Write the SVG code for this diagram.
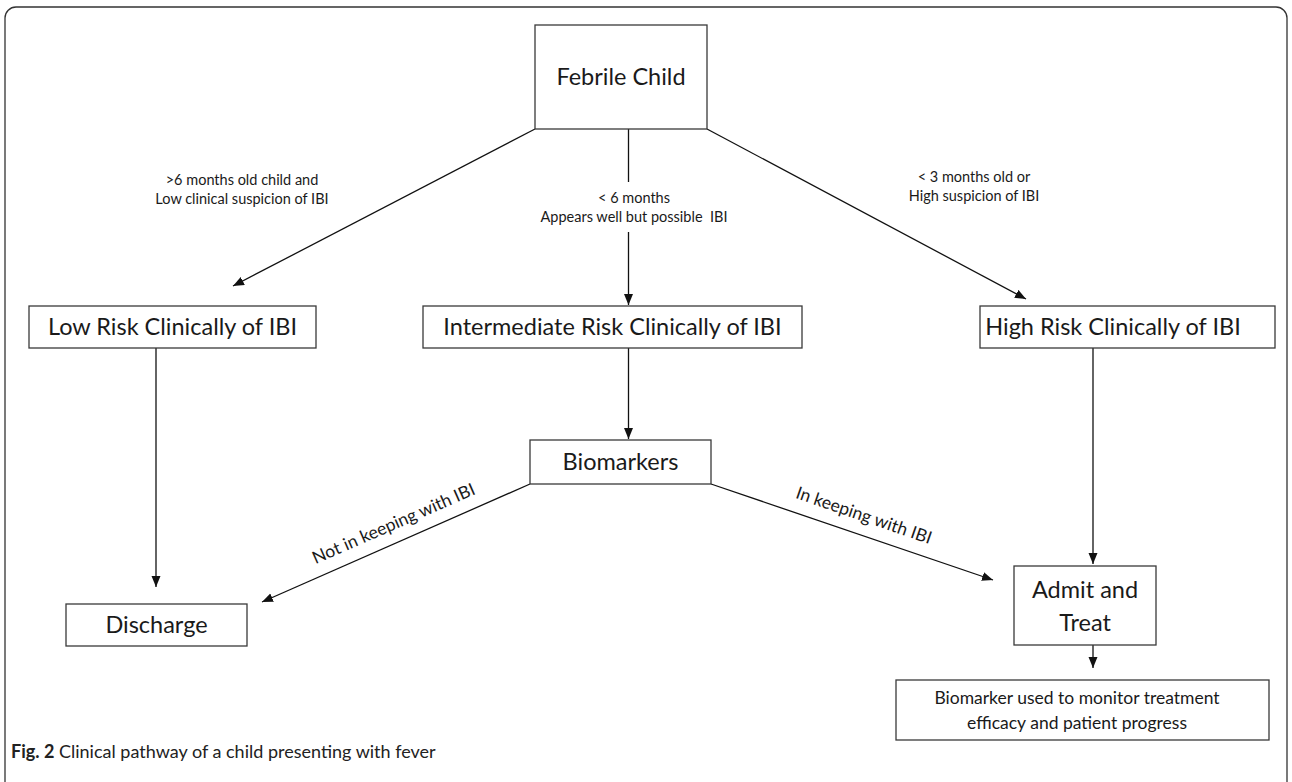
<svg xmlns="http://www.w3.org/2000/svg" width="1292" height="782" viewBox="0 0 1292 782">
<style>
.box{fill:#fff;stroke:#3a3a3a;stroke-width:1.3}
.t{font-family:Lato,"Open Sans",sans-serif;fill:#1a1a1a;text-anchor:middle}
.big{font-size:23.5px}
.sm{font-size:14.5px}
.md{font-size:17.5px}
.ln{stroke:#111;stroke-width:1.3;fill:none}
.cap{font-family:Lato,"Open Sans",sans-serif;font-size:18px;fill:#222}
</style>
<defs>
<marker id="ah" markerUnits="userSpaceOnUse" markerWidth="12" markerHeight="10" refX="11" refY="4.5" orient="auto">
<path d="M0,0 L11,4.5 L0,9 z" fill="#111"/>
</marker>
</defs>
<rect x="5" y="7" width="1282" height="820" rx="11" fill="none" stroke="#333" stroke-width="1.3"/>
<g id="connectors">
<path class="ln" d="M535,129 L233,286" marker-end="url(#ah)"/>
<path class="ln" d="M628.5,129 V182"/>
<path class="ln" d="M628.5,232 V305" marker-end="url(#ah)"/>
<path class="ln" d="M707,129 L1026,299" marker-end="url(#ah)"/>
<path class="ln" d="M156,348 V587" marker-end="url(#ah)"/>
<path class="ln" d="M628.5,348 V439" marker-end="url(#ah)"/>
<path class="ln" d="M1093,348 V564" marker-end="url(#ah)"/>
<path class="ln" d="M530,484 L262,602" marker-end="url(#ah)"/>
<path class="ln" d="M711,484 L993,580" marker-end="url(#ah)"/>
<path class="ln" d="M1093,645 V668" marker-end="url(#ah)"/>
<text class="t sm" x="242" y="185">&gt;6 months old child and</text>
<text class="t sm" x="242" y="204">Low clinical suspicion of IBI</text>
<text class="t sm" x="634" y="203">&lt; 6 months</text>
<text class="t sm" x="634" y="222" xml:space="preserve">Appears well but possible  IBI</text>
<text class="t sm" x="974" y="182">&lt; 3 months old or</text>
<text class="t sm" x="974" y="201">High suspicion of IBI</text>
<text class="t md" transform="translate(396,529) rotate(-23.6)">Not in keeping with IBI</text>
<text class="t md" transform="translate(862,521) rotate(19)">In keeping with IBI</text>
</g>
<g id="febrile"><rect class="box" x="535" y="25" width="172" height="104"/><text class="t big" x="621" y="85">Febrile Child</text></g>
<g id="low"><rect class="box" x="29" y="306" width="287" height="42"/><text class="t big" x="172.5" y="335">Low Risk Clinically of IBI</text></g>
<g id="intermediate"><rect class="box" x="423" y="306" width="379" height="42"/><text class="t big" x="612.5" y="335">Intermediate Risk Clinically of IBI</text></g>
<g id="high"><rect class="box" x="980" y="306" width="295" height="42"/><text class="t big" x="1113" y="335">High Risk Clinically of IBI</text></g>
<g id="biomarkers"><rect class="box" x="530" y="440" width="181" height="44"/><text class="t big" x="620.5" y="470">Biomarkers</text></g>
<g id="discharge"><rect class="box" x="66" y="604" width="181" height="42"/><text class="t big" x="156.5" y="633">Discharge</text></g>
<g id="admit"><rect class="box" x="1014" y="566" width="142" height="79"/><text class="t big" x="1085" y="598">Admit and</text><text class="t big" x="1085" y="631">Treat</text></g>
<g id="monitor"><rect class="box" x="896" y="680" width="373" height="60"/><text class="t md" x="1077" y="704">Biomarker used to monitor treatment</text><text class="t md" x="1077" y="729">efficacy and patient progress</text></g>
<text class="cap" x="11" y="758"><tspan font-weight="bold">Fig. 2</tspan> Clinical pathway of a child presenting with fever</text>
</svg>
